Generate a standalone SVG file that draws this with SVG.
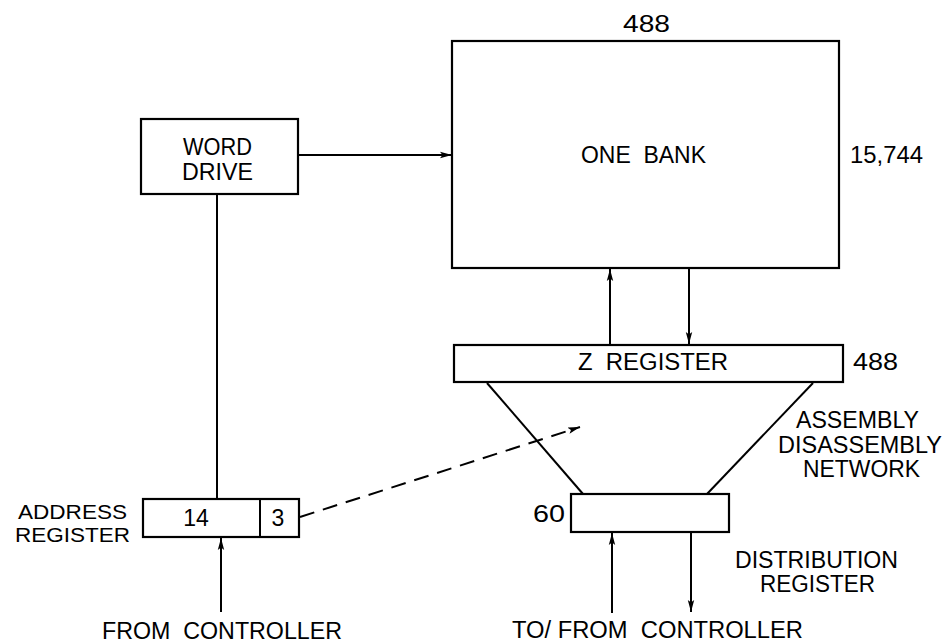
<svg xmlns="http://www.w3.org/2000/svg" width="945" height="644" viewBox="0 0 945 644">
<defs>
<marker id="ah" viewBox="0 0 12 8" refX="12" refY="4" markerWidth="12" markerHeight="8" markerUnits="userSpaceOnUse" orient="auto">
<path d="M0,0.8 L12,4 L0,7.2 L2.5,4 Z" fill="#000"/>
</marker>
<style>
.box{fill:#fff;stroke:#000;stroke-width:2.2}
.ln{fill:none;stroke:#000;stroke-width:2}
.dash{fill:none;stroke:#000;stroke-width:2;stroke-dasharray:15 9}
text{font-family:"Liberation Sans",Arial,sans-serif;font-size:23px;fill:#000}
.sm{font-size:20px}
.mid{text-anchor:middle}
</style>
</defs>
<rect width="945" height="644" fill="#fff"/>
<g id="connectors">
<line class="ln" x1="298" y1="155" x2="452" y2="155" marker-end="url(#ah)"/>
<line class="ln" x1="217" y1="194" x2="217" y2="499"/>
<line class="ln" x1="221" y1="612" x2="221" y2="538" marker-end="url(#ah)"/>
<line class="ln" x1="610" y1="345" x2="610" y2="269" marker-end="url(#ah)"/>
<line class="ln" x1="689" y1="268" x2="689" y2="344" marker-end="url(#ah)"/>
<line class="ln" x1="487" y1="383" x2="583" y2="494"/>
<line class="ln" x1="813" y1="383" x2="707" y2="494"/>
<line class="dash" x1="300" y1="517" x2="580" y2="427" marker-end="url(#ah)"/>
<line class="ln" x1="612" y1="613" x2="612" y2="533" marker-end="url(#ah)"/>
<line class="ln" x1="691" y1="532" x2="691" y2="612" marker-end="url(#ah)"/>
</g>
<g id="one-bank">
<rect class="box" x="452" y="41" width="387" height="227"/>
<text x="581" y="163" textLength="125" lengthAdjust="spacingAndGlyphs">ONE&#160;&#160;BANK</text>
<text x="623" y="32" textLength="47" lengthAdjust="spacingAndGlyphs">488</text>
<text x="850" y="163" textLength="73" lengthAdjust="spacingAndGlyphs">15,744</text>
</g>
<g id="word-drive">
<rect class="box" x="141" y="119" width="157" height="75"/>
<text x="183" y="155" textLength="69" lengthAdjust="spacingAndGlyphs">WORD</text>
<text x="182" y="180" textLength="71" lengthAdjust="spacingAndGlyphs">DRIVE</text>
</g>
<g id="z-register">
<rect class="box" x="454" y="345" width="389" height="37"/>
<text x="578" y="370" textLength="150" lengthAdjust="spacingAndGlyphs">Z&#160;&#160;REGISTER</text>
<text x="853" y="370" textLength="45" lengthAdjust="spacingAndGlyphs">488</text>
</g>
<g id="network-label">
<text x="796" y="428" textLength="123" lengthAdjust="spacingAndGlyphs">ASSEMBLY</text>
<text x="778" y="453" textLength="164" lengthAdjust="spacingAndGlyphs">DISASSEMBLY</text>
<text x="803" y="477" textLength="117" lengthAdjust="spacingAndGlyphs">NETWORK</text>
</g>
<g id="distribution-register">
<rect class="box" x="571" y="494" width="158" height="38"/>
<text x="533" y="522" textLength="32" lengthAdjust="spacingAndGlyphs">60</text>
<text x="735" y="568" textLength="163" lengthAdjust="spacingAndGlyphs">DISTRIBUTION</text>
<text x="760" y="592" textLength="115" lengthAdjust="spacingAndGlyphs">REGISTER</text>
<text x="512" y="638" textLength="291" lengthAdjust="spacingAndGlyphs">TO/&#160;FROM&#160;&#160;CONTROLLER</text>
</g>
<g id="address-register">
<rect class="box" x="143" y="499" width="156" height="38"/>
<line class="ln" x1="260" y1="499" x2="260" y2="537"/>
<text class="mid" x="196" y="526">14</text>
<text class="mid" x="278" y="526">3</text>
<text class="sm" x="18" y="519" textLength="109" lengthAdjust="spacingAndGlyphs">ADDRESS</text>
<text class="sm" x="15" y="542" textLength="115" lengthAdjust="spacingAndGlyphs">REGISTER</text>
<text x="102" y="639" textLength="240" lengthAdjust="spacingAndGlyphs">FROM&#160;&#160;CONTROLLER</text>
</g>
</svg>
